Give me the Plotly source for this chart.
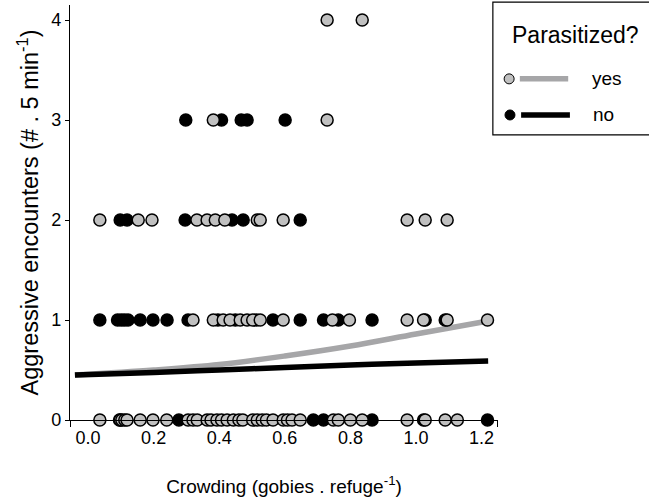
import plotly.graph_objects as go

# ---- data ----
# x positions of "yes" (parasitized, grey) and "no" (black) fish at each encounter count
yes_x0 = [0.036, 0.098, 0.103, 0.112, 0.119, 0.159, 0.198, 0.240, 0.305, 0.320, 0.333, 0.363, 0.375,
          0.393, 0.407, 0.424, 0.443, 0.460, 0.472, 0.502, 0.516, 0.531, 0.544, 0.564, 0.595, 0.608,
          0.622, 0.647, 0.748, 0.763, 0.800, 0.836, 0.973, 1.028, 1.089, 1.126]
no_x0 = [0.096, 0.277, 0.687, 0.718, 0.866, 1.023, 1.218]

yes_x1 = [0.320, 0.382, 0.412, 0.433, 0.464, 0.485, 0.502, 0.525, 0.595, 0.745, 0.797, 0.973, 1.023,
          1.095, 1.218]
no_x1 = [0.036, 0.090, 0.101, 0.111, 0.122, 0.159, 0.198, 0.241, 0.305, 0.396, 0.449, 0.513, 0.564,
         0.647, 0.718, 0.763, 0.866, 1.028, 1.089]

yes_x2 = [0.036, 0.153, 0.195, 0.332, 0.363, 0.388, 0.417, 0.516, 0.525, 0.595, 0.973, 1.028, 1.095]
no_x2 = [0.098, 0.119, 0.296, 0.439, 0.473, 0.647]

yes_x3 = [0.382, 0.729]
no_x3 = [0.298, 0.407, 0.467, 0.485, 0.601]

yes_x4 = [0.729, 0.836]
no_x4 = []

# fitted curves
fit_x = [-0.04, 0.2, 0.4, 0.6, 0.8, 1.0, 1.22]
fit_yes = [0.45, 0.50, 0.555, 0.64, 0.74, 0.86, 0.99]
fit_no = [0.45, 0.475, 0.50, 0.525, 0.55, 0.57, 0.59]

x_ticks = [0.0, 0.2, 0.4, 0.6, 0.8, 1.0, 1.2]
y_ticks = [0, 1, 2, 3, 4]
x_range = [-0.055, 1.25]
y_range = [0, 4.15]

FONT = "Arial, Liberation Sans, sans-serif"
GREY = "#c0c0c0"
GREY_LINE = "#a6a6a8"

def collect(groups):
    xs, ys = [], []
    for level, g in groups:
        xs += g
        ys += [level] * len(g)
    return xs, ys

nx, ny = collect([(0, no_x0), (1, no_x1), (2, no_x2), (3, no_x3), (4, no_x4)])
yx, yy = collect([(0, yes_x0), (1, yes_x1), (2, yes_x2), (3, yes_x3), (4, yes_x4)])

fig = go.Figure()
fig.add_trace(go.Scatter(x=fit_x, y=fit_yes, mode="lines", line=dict(color=GREY_LINE, width=5.5, shape="spline"),
                         showlegend=False, hoverinfo="skip"))
fig.add_trace(go.Scatter(x=fit_x, y=fit_no, mode="lines", line=dict(color="black", width=5.5, shape="spline"),
                         showlegend=False, hoverinfo="skip"))
fig.add_trace(go.Scatter(x=nx, y=ny, mode="markers", cliponaxis=False, showlegend=False,
                         marker=dict(size=12, color="black", line=dict(color="black", width=1.5))))
fig.add_trace(go.Scatter(x=yx, y=yy, mode="markers", cliponaxis=False, showlegend=False,
                         marker=dict(size=12, color=GREY, line=dict(color="black", width=1.5))))

# legend drawn manually (box, title, symbols)
shapes = [
    dict(type="rect", xref="paper", yref="paper", x0=0.988, x1=1.45, y0=0.687, y1=1.007,
         line=dict(color="black", width=1.2), fillcolor="white", layer="above"),
    dict(type="line", xref="paper", yref="paper", x0=1.051, x1=1.164, y0=0.822, y1=0.822,
         line=dict(color=GREY_LINE, width=5.5)),
    dict(type="line", xref="paper", yref="paper", x0=1.054, x1=1.168, y0=0.735, y1=0.735,
         line=dict(color="black", width=5.5)),
    dict(type="circle", xref="paper", yref="paper", xsizemode="pixel", ysizemode="pixel",
         xanchor=1.026, yanchor=0.822, x0=-5, x1=5, y0=-5, y1=5,
         fillcolor=GREY, line=dict(color="black", width=1)),
    dict(type="circle", xref="paper", yref="paper", xsizemode="pixel", ysizemode="pixel",
         xanchor=1.028, yanchor=0.735, x0=-5, x1=5, y0=-5, y1=5,
         fillcolor="black", line=dict(color="black", width=1)),
]
annotations = [
    dict(text="Parasitized?", xref="paper", yref="paper", x=1.180, y=0.928, showarrow=False,
         font=dict(family=FONT, size=23, color="black"), xanchor="center", yanchor="middle"),
    dict(text="yes", xref="paper", yref="paper", x=1.215, y=0.822, showarrow=False,
         font=dict(family=FONT, size=19, color="black"), xanchor="left", yanchor="middle"),
    dict(text="no", xref="paper", yref="paper", x=1.217, y=0.735, showarrow=False,
         font=dict(family=FONT, size=19, color="black"), xanchor="left", yanchor="middle"),
]

fig.update_layout(
    width=649, height=504,
    margin=dict(l=70, r=151, t=5, b=84),
    paper_bgcolor="white", plot_bgcolor="white",
    font=dict(family=FONT, color="black"),
    shapes=shapes, annotations=annotations,
    showlegend=False,
    xaxis=dict(range=x_range, tickvals=x_ticks, ticktext=[f"{v:.1f}" for v in x_ticks],
               showline=True, linecolor="black", linewidth=1.2, ticks="", ticklen=0,
               minor=dict(tickmode="array", tickvals=[x_range[0] + 0.0005, x_range[1] - 0.0005],
                          ticks="outside", ticklen=6, tickcolor="black", tickwidth=1.2, showgrid=False),
               showgrid=False, zeroline=False, automargin=False,
               ticklabelstandoff=1,
               tickfont=dict(family=FONT, size=18),
               title=dict(text="Crowding (gobies . refuge<sup>-1</sup>)", font=dict(family=FONT, size=19),
                          standoff=32)),
    yaxis=dict(range=y_range, tickvals=y_ticks, showline=True, linecolor="black", linewidth=1.2,
               ticks="outside", ticklen=4, tickcolor="black", tickwidth=1.2, showgrid=False, zeroline=False,
               automargin=False, ticklabelstandoff=0,
               tickfont=dict(family=FONT, size=18),
               title=dict(text="Aggressive encounters (# . 5 min<sup>-1</sup>)", font=dict(family=FONT, size=23.5),
                          standoff=6)),
)

fig.write_html("out.html", config={"displayModeBar": False},
               post_script="document.body.style.margin='0px';")
